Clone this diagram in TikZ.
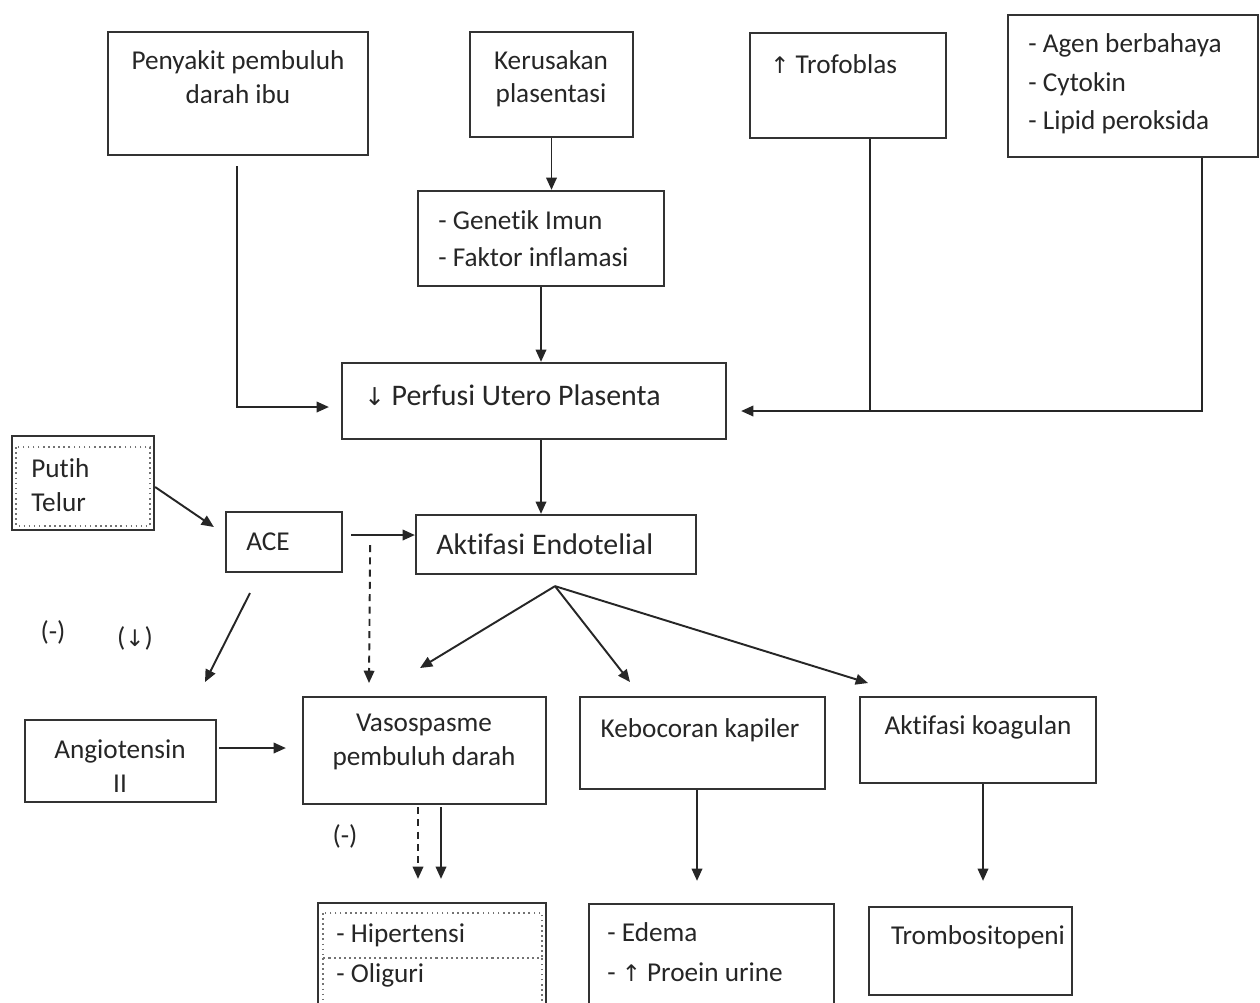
\documentclass[tikz,border=0pt]{standalone}
\usepackage{fontspec}
\setmainfont{Carlito}[Ligatures={NoCommon}]
\newfontfamily\symf{DejaVu Sans}
\usetikzlibrary{arrows.meta,calc}
\begin{document}
\begin{tikzpicture}[x=0.02cm,y=-0.02cm]
\tikzset{
 box/.style={draw=black!80,line width=1.3pt,inner sep=0pt,fill=white},
 txt/.style={font=\fontsize{15.5}{19}\selectfont,text=black!85,inner sep=0pt},
 bigtxt/.style={font=\fontsize{17}{20}\selectfont,text=black!85,inner sep=0pt},
 arr/.style={draw=black!85,line width=1.1pt,-{Triangle[length=7pt,width=6pt]}},
 ln/.style={draw=black!85,line width=1.1pt},
 dsh/.style={arr,dash pattern=on 4pt off 3pt},
 dotbox/.style={draw=black!55,line width=0.9pt,dotted}
}
\fill[white] (0,0) rectangle (1260,1002);
\clip (0,0) rectangle (1260,1002);

% boxes
\node[box,minimum width=5.2cm,minimum height=2.46cm] (pen) at (238,93.5) {};
\node[box,minimum width=3.26cm,minimum height=2.1cm] (ker) at (551.5,84.5) {};
\node[box,minimum width=3.92cm,minimum height=2.1cm] (trof) at (848,85.5) {};
\node[box,minimum width=5.0cm,minimum height=2.84cm] (agen) at (1133,86) {};
\node[box,minimum width=4.92cm,minimum height=1.9cm] (gen) at (541,238.5) {};
\node[box,minimum width=7.68cm,minimum height=1.52cm] (perf) at (534,401) {};
\node[box,minimum width=2.84cm,minimum height=1.88cm] (putih) at (83,483) {};
\node[box,minimum width=2.32cm,minimum height=1.2cm] (ace) at (284,542) {};
\node[box,minimum width=5.6cm,minimum height=1.18cm] (akt) at (556,544.5) {};
\node[box,minimum width=3.82cm,minimum height=1.64cm] (ang) at (120.5,761) {};
\node[box,minimum width=4.86cm,minimum height=2.14cm] (vaso) at (424.5,750.5) {};
\node[box,minimum width=4.9cm,minimum height=1.84cm] (keb) at (702.5,743) {};
\node[box,minimum width=4.72cm,minimum height=1.72cm] (koag) at (978,740) {};
\node[box,minimum width=4.56cm,minimum height=2.06cm] (hip) at (432,954.5) {};
\node[box,minimum width=4.9cm,minimum height=2.04cm] (ede) at (711.5,955) {};
\node[box,minimum width=4.06cm,minimum height=1.76cm] (trom) at (970.5,951) {};

% inner dotted frames
\draw[dotbox] (16,447) rectangle (150,526);
\draw[dotbox] (323,913) rectangle (542,958);
\draw[dotbox] (323,958) rectangle (542,1010);

% texts
\node[txt,align=center] (penT) at (238,77) {Penyakit pembuluh\\darah ibu};
\node[txt,align=center] (kerT) at (551,79) {Kerusakan\\plasentasi};
\node[txt,anchor=west] (trofT) at (770,64) {{\symf\fontsize{13}{14}\selectfont↑} Trofoblas};
\node[txt,anchor=west,align=left] (agenT) at (1028,84) {- Agen berbahaya\\[3pt]- Cytokin\\[3pt]- Lipid peroksida};
\node[txt,anchor=west,align=left] (genT) at (438,239) {- Genetik Imun\\[2pt]- Faktor inflamasi};
\node[bigtxt,anchor=west] (perfT) at (364,395) {{\symf\fontsize{14}{14}\selectfont↓} Perfusi Utero Plasenta};
\node[txt,anchor=west,align=left] (putihT) at (31,485) {Putih\\Telur};
\node[txt,anchor=west] (aceT) at (246,542) {ACE};
\node[bigtxt,anchor=west] (aktT) at (436,544) {Aktifasi Endotelial};
\node[txt,align=center] (angT) at (120,766) {Angiotensin\\II};
\node[txt,align=center] (vasoT) at (424,742) {Vasospasme\\pembuluh darah};
\node[txt] (kebT) at (700,730) {Kebocoran kapiler};
\node[txt] (koagT) at (978,727) {Aktifasi koagulan};
\node[txt,anchor=west] (hipT) at (336,935) {- Hipertensi};
\node[txt,anchor=west] (oliT) at (336,975) {- Oliguri};
\node[txt,anchor=west] (edeT) at (607,932) {- Edema};
\node[txt,anchor=west] (proT) at (607,972) {- {\symf\fontsize{13}{14}\selectfont↑} Proein urine};
\node[txt] (tromT) at (978,937) {Trombositopeni};
\node[txt] (l1) at (53,632) {(-)};
\node[txt] (l2) at (135,638) {({\symf\fontsize{13}{14}\selectfont↓})};
\node[txt] (l3) at (345,836) {(-)};

% coordinates for free ends
\coordinate (j1) at (870,411);
\coordinate (e1) at (420,668);
\coordinate (e2) at (630,682);
\coordinate (e3) at (868,683);
\coordinate (a1) at (250,593);
\coordinate (a2) at (205,682);
\coordinate (a3) at (369,683);

% connectors
\draw[arr] (ker.south) -- (gen.north -| ker.south);
\draw[arr] (gen.south) -- (perf.north -| gen.south);
\draw[arr] ($(pen.south)+(-1,10)$) |- ($(perf.west)+(-12,6)$);
\draw[ln] ($(trof.south)+(22,0)$) -- (j1);
\draw[arr] ($(agen.south)+(69,0)$) |- ($(perf.east)+(14,10)$);
\draw[arr] (perf.south -| gen.south) -- (akt.north -| gen.south);
\draw[arr] ($(putih.east)+(0,4)$) -- ($(ace.west)+(-11,-15)$);
\draw[arr] ($(ace.east)+(8,-7)$) -- ($(akt.west)+(0,-9.5)$);
\draw[dsh] ($(ace.east)+(27,3)$) -- (a3);
\draw[arr] (a1) -- (a2);
\draw[arr] ($(ang.east)+(2,-13)$) -- ($(vaso.west)+(-16,-2.5)$);
\draw[arr] ($(akt.south)+(-1,11)$) -- (e1);
\draw[arr] ($(akt.south)+(-1,11)$) -- (e2);
\draw[arr] ($(akt.south)+(-1,11)$) -- (e3);
\draw[dsh] ($(vaso.south)+(-6.5,2)$) -- ($(hip.north)+(-14,-23)$);
\draw[arr] ($(vaso.south)+(16.5,2)$) -- ($(hip.north)+(9,-23)$);
\draw[arr] ($(keb.south)+(-5.5,0)$) -- ($(ede.north)+(-14.5,-22)$);
\draw[arr] ($(koag.south)+(5,0)$) -- ($(trom.north)+(12.5,-25)$);
\end{tikzpicture}
\end{document}
